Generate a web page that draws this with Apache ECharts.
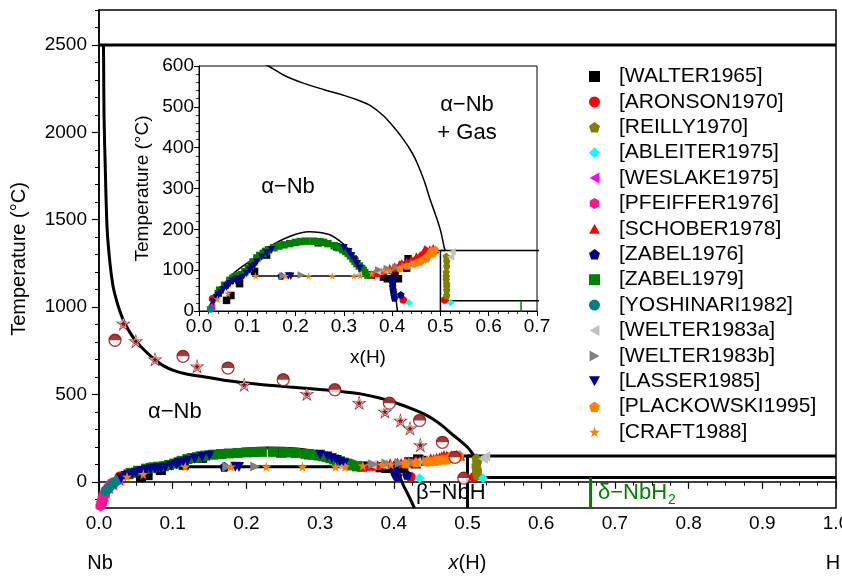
<!DOCTYPE html>
<html>
<head>
<meta charset="utf-8">
<script src="https://cdn.jsdelivr.net/npm/echarts@6/dist/echarts.min.js"></script>
<style>
html,body{margin:0;padding:0;background:#fff}
#chart{width:842px;height:576px}
</style>
</head>
<body>
<div id="chart"></div>
<script>
// ---------- tick labels ----------
const mainYTicks = [0, 500, 1000, 1500, 2000, 2500];
const mainYMinorStep = 100;
const insetYTicks = [0, 100, 200, 300, 400, 500, 600];

// ---------- phase boundaries (x(H), T in °C) ----------
const melting = [[0, 2500], [1, 2500]];
const solvus = [[0.006, 2500], [0.0063, 2400], [0.0068, 2100], [0.0083, 1830], [0.011, 1450], [0.0149, 1250],
  [0.019, 1120], [0.023, 1050], [0.028, 980], [0.035, 906], [0.049, 810], [0.06, 760], [0.074, 705],
  [0.087, 665], [0.101, 638], [0.12, 615], [0.144, 600], [0.175, 578], [0.216, 558], [0.259, 542],
  [0.3, 528], [0.33, 516], [0.355, 503], [0.382, 478], [0.405, 448], [0.424, 419], [0.44, 390],
  [0.452, 362], [0.466, 320], [0.479, 272], [0.49, 235], [0.5, 198], [0.505, 172], [0.508, 155], [0.51, 148]];
const dome = [[0.012, -50], [0.018, 0], [0.03, 30], [0.045, 55], [0.064, 84], [0.085, 105], [0.106, 122],
  [0.125, 140], [0.147, 158], [0.168, 172], [0.189, 183], [0.21, 191], [0.228, 194], [0.25, 192],
  [0.272, 186], [0.29, 173], [0.305, 157], [0.316, 141], [0.325, 125], [0.333, 108], [0.34, 93], [0.345, 88]];
const eutectoid = [[0.11, 86], [0.405, 86]];
const betaUpper = [[0.345, 88], [0.36, 91], [0.38, 95], [0.4, 101], [0.42, 109], [0.44, 118], [0.46, 128],
  [0.48, 139], [0.495, 148], [0.51, 148]];
const betaLower = [[0.405, 86], [0.407, 50], [0.409, 20], [0.413, -20], [0.419, -70], [0.428, -150]];
const upperPlateau = [[0.5, 148], [1, 148]];
const lowerPlateau = [[0.5, 25], [1, 25]];
const nbhWall = [[0.5, 148], [0.5, -150]];
const deltaLine = [[0.667, 25], [0.667, -150]];

// ---------- calculated solvus points ----------
const solvusStars = [[0.033, 906], [0.050, 805], [0.076, 701], [0.133, 661], [0.197, 556], [0.282, 504],
  [0.353, 452], [0.388, 402], [0.409, 351], [0.422, 306], [0.436, 211]];
const solvusCircles = [[0.0217, 810], [0.114, 718], [0.175, 651], [0.250, 584], [0.320, 527], [0.394, 450],
  [0.435, 351], [0.466, 226], [0.483, 140], [0.495, 21]];

// ---------- experimental data ----------
const walter1965 = [[0.057, 26], [0.066, 38], [0.084, 67], [0.115, 97], [0.14, 137], [0.247, 167], [0.285, 157],
  [0.357, 88], [0.382, 83], [0.39, 79], [0.406, 89], [0.413, 79], [0.421, 112], [0.43, 105], [0.433, 128], [0.437, 120]];
const aronson1970 = [[0.028, 30], [0.423, 27], [0.509, 27]];
const reilly1970 = [[0.512, 134], [0.513, 122], [0.513, 110], [0.512, 95], [0.512, 85], [0.512, 77],
  [0.513, 67], [0.513, 60], [0.513, 51], [0.513, 38]];
const ableiter1975 = [[0.435, 20], [0.521, 20]];
const weslake1975 = [[0.004, -110], [0.006, -90], [0.008, -65], [0.012, -40], [0.018, -20], [0.022, 10], [0.026, 8]];
const pfeiffer1976 = [[0.002, -140], [0.003, -125], [0.004, -110], [0.005, -95], [0.006, -82], [0.007, -70],
  [0.009, -55], [0.011, -42], [0.013, -30], [0.015, -17], [0.018, -3]];
const schober1978 = [[0.357, 88], [0.365, 95], [0.37, 92], [0.378, 96], [0.385, 102], [0.39, 100], [0.395, 106],
  [0.402, 104], [0.405, 110], [0.41, 108], [0.416, 116], [0.42, 118], [0.425, 112], [0.43, 122], [0.435, 120],
  [0.44, 128], [0.445, 125], [0.45, 135], [0.454, 132], [0.458, 138], [0.462, 140], [0.465, 146], [0.468, 153],
  [0.472, 150], [0.475, 145], [0.478, 152], [0.482, 145], [0.485, 155], [0.49, 150]];
const zabel1976 = [[0.17, 86], [0.4, 83], [0.4, 75], [0.401, 68], [0.401, 60], [0.402, 52], [0.403, 45],
  [0.404, 38], [0.405, 32], [0.418, 40]];
const zabel1979 = [[0.04, 43], [0.043, 51], [0.053, 63], [0.064, 75], [0.07, 80], [0.074, 83], [0.08, 86],
  [0.088, 89], [0.095, 96], [0.102, 104], [0.108, 112], [0.112, 120], [0.12, 130], [0.126, 136], [0.133, 141],
  [0.138, 146], [0.144, 150], [0.155, 155], [0.165, 159], [0.176, 162], [0.188, 165], [0.2, 168], [0.21, 170],
  [0.221, 171], [0.236, 171], [0.25, 170], [0.258, 168], [0.267, 165], [0.28, 160], [0.29, 155], [0.298, 150],
  [0.304, 146], [0.309, 141], [0.314, 135], [0.319, 128], [0.323, 122], [0.327, 116], [0.332, 110],
  [0.337, 104], [0.34, 99], [0.343, 94], [0.35, 88]];
const yoshinari1982 = [[0.009, -52], [0.012, -40], [0.015, -28], [0.018, -16], [0.021, -5], [0.024, 5]];
const welter1983a = [[0.33, 88], [0.37, 97], [0.385, 99], [0.43, 110], [0.44, 113], [0.455, 118], [0.521, 132], [0.524, 145]];
const welter1983b = [[0.174, 86], [0.212, 88], [0.372, 101], [0.39, 104], [0.408, 107], [0.426, 111], [0.445, 117]];
const lasser1985 = [[0.03, 22], [0.036, 33], [0.04, 38], [0.045, 45], [0.05, 52], [0.057, 59], [0.06, 62],
  [0.064, 67], [0.07, 72], [0.076, 75], [0.08, 78], [0.084, 76], [0.09, 82], [0.098, 92], [0.105, 100],
  [0.109, 108], [0.115, 112], [0.12, 120], [0.13, 132], [0.14, 142], [0.15, 150], [0.185, 86], [0.19, 85],
  [0.3, 155], [0.31, 145], [0.316, 135], [0.322, 125], [0.327, 115], [0.333, 105]];
const plackowski1995 = [[0.416, 104], [0.43, 110], [0.445, 116], [0.45, 118], [0.455, 120], [0.458, 122],
  [0.461, 124], [0.465, 127], [0.468, 130], [0.472, 128], [0.475, 137], [0.478, 142], [0.48, 145],
  [0.482, 149], [0.485, 140], [0.487, 147], [0.489, 151]];
const craft1988 = [[0.038, 29], [0.06, 43], [0.117, 86], [0.179, 86], [0.227, 86], [0.276, 86], [0.321, 86],
  [0.334, 86], [0.358, 92], [0.384, 97], [0.396, 99]];

// ---------- symbols ----------
const SYM = {
  pentagon: 'path://M0,-10L9.511,-3.09L5.878,8.09L-5.878,8.09L-9.511,-3.09Z',
  hexagon: 'path://M0,-10L8.66,-5L8.66,5L0,10L-8.66,5L-8.66,-5Z',
  star: 'path://M0,-10L2.245,-3.09L9.511,-3.09L3.633,1.18L5.878,8.09L0,3.82L-5.878,8.09L-3.633,1.18L-9.511,-3.09L-2.245,-3.09Z',
  triLeft: 'path://M-10,0L8,-10L8,10Z',
  triRight: 'path://M10,0L-8,-10L-8,10Z',
  triUp: 'path://M0,-10L10,8L-10,8Z',
  triDown: 'path://M-10,-8L10,-8L0,10Z',
  halfTop: 'path://M-10,0A10,10 0 0 1 10,0Z'
};

const datasets = [
  { name: '[WALTER1965]', data: walter1965, symbol: 'rect', color: '#000000' },
  { name: '[ARONSON1970]', data: aronson1970, symbol: 'circle', color: '#FF0000' },
  { name: '[REILLY1970]', data: reilly1970, symbol: SYM.pentagon, color: '#808000' },
  { name: '[ABLEITER1975]', data: ableiter1975, symbol: 'diamond', color: '#00FFFF' },
  { name: '[WESLAKE1975]', data: weslake1975, symbol: SYM.triLeft, color: '#FF00FF' },
  { name: '[PFEIFFER1976]', data: pfeiffer1976, symbol: SYM.hexagon, color: '#FF1493' },
  { name: '[SCHOBER1978]', data: schober1978, symbol: SYM.triUp, color: '#FF0000' },
  { name: '[ZABEL1976]', data: zabel1976, symbol: SYM.pentagon, color: '#000080' },
  { name: '[ZABEL1979]', data: zabel1979, symbol: 'rect', color: '#008000' },
  { name: '[YOSHINARI1982]', data: yoshinari1982, symbol: 'circle', color: '#008080' },
  { name: '[WELTER1983a]', data: welter1983a, symbol: SYM.triLeft, color: '#C0C0C0' },
  { name: '[WELTER1983b]', data: welter1983b, symbol: SYM.triRight, color: '#808080' },
  { name: '[LASSER1985]', data: lasser1985, symbol: SYM.triDown, color: '#000090' },
  { name: '[PLACKOWSKI1995]', data: plackowski1995, symbol: SYM.pentagon, color: '#FF8000' },
  { name: '[CRAFT1988]', data: craft1988, symbol: SYM.star, color: '#FF8000' }
];

const FONT = 'Liberation Sans, Arial, sans-serif';
const BROWN = '#8B0A0A';

function boundary(data, xi, yi, width, color, smooth) {
  return {
    type: 'line', xAxisIndex: xi, yAxisIndex: yi, data: data,
    symbol: 'none', smooth: smooth || false, silent: true, z: 2,
    lineStyle: { color: color || '#000', width: width }
  };
}
function boundaries(xi, yi, w) {
  return [
    boundary(melting, xi, yi, w),
    boundary(solvus, xi, yi, w, '#000', 0.3),
    boundary(dome, xi, yi, w, '#000', 0.3),
    boundary(eutectoid, xi, yi, w),
    boundary(betaUpper, xi, yi, w, '#000', 0.3),
    boundary(betaLower, xi, yi, w, '#000', 0.3),
    boundary(upperPlateau, xi, yi, w),
    boundary(lowerPlateau, xi, yi, w),
    boundary(nbhWall, xi, yi, w),
    boundary(deltaLine, xi, yi, w, '#008000')
  ];
}
function points(ds, xi, yi, size) {
  return {
    type: 'scatter', name: ds.name, xAxisIndex: xi, yAxisIndex: yi, data: ds.data,
    symbol: ds.symbol, symbolSize: size, z: 3,
    itemStyle: { color: ds.color, opacity: 1 }
  };
}

const series = [];
series.push(...boundaries(0, 0, 3));
series.push(...boundaries(1, 2, 1.5));
datasets.forEach(ds => series.push(points(ds, 0, 0, 10)));
datasets.forEach(ds => series.push(points(ds, 1, 2, 7.5)));
// calculated solvus: outlined stars and half-filled circles
series.push({ type: 'scatter', xAxisIndex: 0, yAxisIndex: 0, data: solvusStars, symbol: SYM.star,
  symbolSize: 15, z: 4, itemStyle: { color: BROWN } });
series.push({ type: 'scatter', xAxisIndex: 0, yAxisIndex: 0, data: solvusStars, symbol: SYM.star,
  symbolSize: 9, z: 5, itemStyle: { color: BROWN, borderColor: '#fff', borderWidth: 0.8 } });
series.push({ type: 'scatter', xAxisIndex: 0, yAxisIndex: 0, data: solvusCircles, symbol: 'circle',
  symbolSize: 12, z: 4, itemStyle: { color: '#fff', borderColor: BROWN, borderWidth: 1.3 } });
series.push({ type: 'scatter', xAxisIndex: 0, yAxisIndex: 0, data: solvusCircles, symbol: SYM.halfTop,
  symbolSize: 12, symbolKeepAspect: true, symbolOffset: [0, '-25%'], z: 5, itemStyle: { color: BROWN } });

const mainYMinor = [];
for (let v = -100; v <= 2700; v += mainYMinorStep) mainYMinor.push(v);

const axisLine = { show: true, lineStyle: { color: '#000', width: 1.5 } };
const plain = v => String(v);

const option = {
  animation: false,
  backgroundColor: '#fff',
  grid: [
    { left: 99, top: 10, width: 737, height: 498, show: true, borderColor: '#000', borderWidth: 1.5,
      backgroundColor: '#fff', outerBoundsMode: 'none', containLabel: false },
    { left: 199, top: 66, width: 338, height: 245, show: true, borderColor: '#000', borderWidth: 1,
      backgroundColor: '#fff', outerBoundsMode: 'none', containLabel: false }
  ],
  xAxis: [
    { gridIndex: 0, type: 'value', min: 0, max: 1, interval: 0.1,
      axisLine: axisLine,
      axisTick: { length: 7, lineStyle: { color: '#000', width: 1.2 } },
      minorTick: { show: true, splitNumber: 4, length: 4, lineStyle: { color: '#000', width: 1 } },
      splitLine: { show: false },
      axisLabel: { color: '#000', fontSize: 19, fontFamily: FONT, margin: 6, formatter: v => v.toFixed(1) },
      name: '{i|x}(H)', nameLocation: 'middle', nameGap: 45,
      nameTextStyle: { color: '#000', fontSize: 20, fontFamily: FONT, rich: { i: { fontStyle: 'italic', fontSize: 20, fontFamily: FONT, color: '#000' } } }
    },
    { gridIndex: 1, type: 'value', min: 0, max: 0.7, interval: 0.1,
      axisLine: { show: true, lineStyle: { color: '#000', width: 1 } },
      axisTick: { length: 5, lineStyle: { color: '#000', width: 1 } },
      minorTick: { show: true, splitNumber: 5, length: 3, lineStyle: { color: '#000', width: 0.8 } },
      splitLine: { show: false },
      axisLabel: { color: '#000', fontSize: 19, fontFamily: FONT, margin: 6, formatter: v => v.toFixed(1) },
      name: 'x(H)', nameLocation: 'middle', nameGap: 37,
      nameTextStyle: { color: '#000', fontSize: 19, fontFamily: FONT }
    }
  ],
  yAxis: [
    { gridIndex: 0, type: 'value', min: -150, max: 2700, position: 'left',
      axisLine: axisLine,
      axisTick: { customValues: mainYTicks, length: 7, lineStyle: { color: '#000', width: 1.2 } },
      axisLabel: { customValues: mainYTicks, color: '#000', fontSize: 19, fontFamily: FONT, margin: 12, formatter: plain },
      splitLine: { show: false },
      name: 'Temperature (°C)', nameLocation: 'middle', nameGap: 70,
      nameTextStyle: { color: '#000', fontSize: 20, fontFamily: FONT }
    },
    { gridIndex: 0, type: 'value', min: -150, max: 2700, position: 'left', offset: 0,
      axisLine: { show: false },
      axisTick: { customValues: mainYMinor, length: 4, lineStyle: { color: '#000', width: 1 } },
      axisLabel: { show: false },
      splitLine: { show: false }
    },
    { gridIndex: 1, type: 'value', min: 0, max: 600, interval: 100,
      axisLine: { show: true, lineStyle: { color: '#000', width: 1 } },
      axisTick: { length: 5, lineStyle: { color: '#000', width: 1 } },
      minorTick: { show: true, splitNumber: 5, length: 3, lineStyle: { color: '#000', width: 0.8 } },
      axisLabel: { customValues: insetYTicks, color: '#000', fontSize: 19, fontFamily: FONT, margin: 5, formatter: plain },
      splitLine: { show: false },
      name: 'Temperature (°C)', nameLocation: 'middle', nameGap: 47,
      nameTextStyle: { color: '#000', fontSize: 19, fontFamily: FONT }
    }
  ],
  legend: {
    data: datasets.map(ds => ({ name: ds.name, icon: ds.symbol })),
    orient: 'vertical', left: 584, top: 61,
    itemWidth: 11, itemHeight: 11, itemGap: 4.4,
    selectedMode: false,
    textStyle: { color: '#000', fontSize: 21, lineHeight: 21, fontFamily: FONT, padding: [0, 0, 0, 14] }
  },
  graphic: [
    { type: 'text', x: 100, y: 563, style: { text: 'Nb', font: '20px ' + FONT, fill: '#000', align: 'center', verticalAlign: 'middle' } },
    { type: 'text', x: 833, y: 563, style: { text: 'H', font: '20px ' + FONT, fill: '#000', align: 'center', verticalAlign: 'middle' } },
    { type: 'text', x: 148, y: 412, style: { text: 'α−Nb', font: '22px ' + FONT, fill: '#000', align: 'left', verticalAlign: 'middle' } },
    { type: 'text', x: 416, y: 493, style: { text: 'β−NbH', font: '22px ' + FONT, fill: '#000', align: 'left', verticalAlign: 'middle' } },
    { type: 'text', x: 598, y: 493, style: { text: 'δ−NbH', font: '22px ' + FONT, fill: '#008000', align: 'left', verticalAlign: 'middle' } },
    { type: 'text', x: 668, y: 500, style: { text: '2', font: '14px ' + FONT, fill: '#008000', align: 'left', verticalAlign: 'middle' } },
    { type: 'text', x: 288, y: 187, style: { text: 'α−Nb', font: '22px ' + FONT, fill: '#000', align: 'center', verticalAlign: 'middle' } },
    { type: 'text', x: 467, y: 105, style: { text: 'α−Nb', font: '22px ' + FONT, fill: '#000', align: 'center', verticalAlign: 'middle' } },
    { type: 'text', x: 467, y: 133, style: { text: '+ Gas', font: '22px ' + FONT, fill: '#000', align: 'center', verticalAlign: 'middle' } }
  ],
  series: series
};

const chart = echarts.init(document.getElementById('chart'), null, { renderer: 'canvas' });
chart.setOption(option);
</script>
</body>
</html>
